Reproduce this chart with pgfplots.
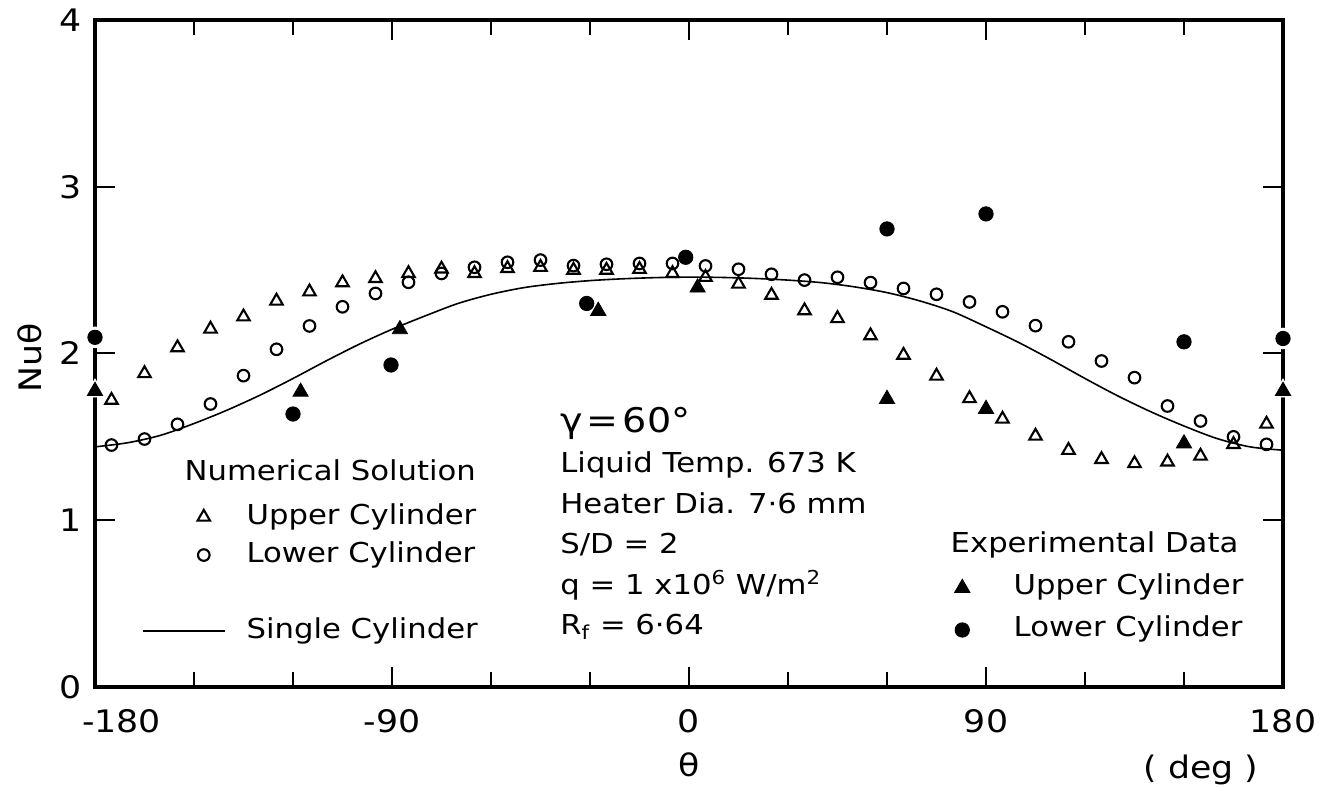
\documentclass[border=0pt]{standalone}
\usepackage{fontspec}
\setmainfont{DejaVu Sans}[FakeStretch=1.12]
\usepackage{pgfplots}
\usepackage{pgfplotstable}
\pgfplotsset{compat=1.18}

\newcommand\lab{\fontsize{13.7pt}{20.25pt}\selectfont}
\newcommand\tickfont{\fontsize{15.5pt}{18pt}\selectfont}

% numerical solution, upper cylinder
\pgfplotstableread{
theta nu
-175 1.72
-165 1.88
-155 2.035
-145 2.147
-135 2.22
-125 2.315
-115 2.37
-105 2.425
-95 2.45
-85 2.48
-75 2.507
-65 2.48
-55 2.51
-45 2.517
-35 2.50
-25 2.50
-15 2.505
-5 2.48
5 2.457
15 2.417
25 2.35
35 2.257
45 2.21
55 2.107
65 1.99
75 1.865
85 1.73
95 1.607
105 1.505
115 1.42
125 1.365
135 1.34
145 1.35
155 1.385
165 1.455
175 1.577
}\numup

% numerical solution, lower cylinder
\pgfplotstableread{
theta nu
-175 1.451
-165 1.487
-155 1.575
-145 1.697
-135 1.867
-125 2.025
-115 2.165
-105 2.28
-95 2.36
-85 2.427
-75 2.48
-65 2.517
-55 2.547
-45 2.56
-35 2.527
-25 2.535
-15 2.54
-5 2.54
5 2.525
15 2.505
25 2.475
35 2.44
45 2.457
55 2.425
65 2.39
75 2.355
85 2.309
95 2.25
105 2.167
115 2.07
125 1.955
135 1.855
145 1.685
155 1.595
165 1.50
175 1.455
}\numlow

% single cylinder
\pgfplotstableread{
theta nu
-180 1.44
-170 1.465
-160 1.51
-150 1.58
-140 1.66
-130 1.75
-120 1.85
-110 1.955
-100 2.055
-90 2.145
-80 2.225
-70 2.30
-60 2.355
-50 2.395
-40 2.42
-30 2.437
-20 2.448
-10 2.455
0 2.458
10 2.456
20 2.45
30 2.44
40 2.425
50 2.40
60 2.365
70 2.315
80 2.25
90 2.16
100 2.065
110 1.96
120 1.85
130 1.745
140 1.65
150 1.565
160 1.49
170 1.44
180 1.42
}\single

% experimental data, upper cylinder
\pgfplotstableread{
theta nu
-180 1.775
-117.7 1.77
-87.6 2.145
-27.5 2.255
2.6 2.395
60 1.727
90 1.667
150 1.46
180 1.775
}\expup

% experimental data, lower cylinder
\pgfplotstableread{
theta nu
-180 2.097
-120 1.637
-90.3 1.931
-31 2.30
-1 2.577
60 2.747
90 2.837
150 2.07
180 2.09
}\explow

\pgfplotsset{
  frame/.style={
    scale only axis, width=594pt, height=333.5pt,
    xmin=-180, xmax=180, ymin=0, ymax=4, clip=false,
  },
  % legend symbols: numerical block (wide cell, mark right of centre)
  markimgA/.style={legend image code/.code={%
    \path (0pt,0pt) (41pt,0pt); \draw[##1] plot coordinates {(30.5pt,0pt)};}},
  lineimgA/.style={legend image code/.code={%
    \draw[##1] (0pt,0pt) -- (41pt,0pt);}},
  % legend symbols: experimental block
  markimgB/.style={legend image code/.code={%
    \path (0pt,0pt) (30pt,0pt); \draw[##1] plot coordinates {(15pt,0pt)};}},
}

\begin{document}
\begin{tikzpicture}
\begin{axis}[frame,
  xtick={-180,-90,0,90,180},
  xticklabels={\hspace*{26.5pt}-180,-90,0,90,180},
  minor xtick={-150,-120,-60,-30,30,60,120,150},
  ytick={0,1,2,3,4}, yticklabels={0,1,2,3,4},
  tick align=inside,
  major tick length=10pt, minor tick length=7.5pt,
  every tick/.style={black, line width=1pt},
  axis line style={line width=2pt},
  ticklabel style={font=\tickfont},
  xticklabel style={anchor=base, yshift=-23pt},
  yticklabel style={anchor=east, xshift=-3pt},
  xlabel={θ}, xlabel style={font=\tickfont, at={(axis description cs:0.5,-0.117)}, anchor=center},
  ylabel={Nuθ}, ylabel style={font=\tickfont, at={(axis description cs:-0.0547,0.493)}, anchor=center, rotate=0},
  legend cell align=left,
  legend style={draw=none, fill=none, inner sep=0pt, outer sep=0pt,
    at={(axis cs:-165.76,1.325)}, anchor=north west, font=\lab,
    row sep=6pt, column sep=10.5pt,
    nodes={inner sep=0pt, text height=10pt, text depth=3pt},
    cells={anchor=west}},
]
\coordinate (BL) at (rel axis cs:0,0);
\coordinate (TR) at (rel axis cs:1,1);

\addlegendimage{empty legend}
\addlegendentry{\hspace*{-31pt}\raisebox{3pt}{Numerical Solution}}

\addplot[only marks, mark=triangle, mark size=3.6pt, mark options={line width=1.05pt, solid}, markimgA]
  table[x=theta, y=nu] {\numup};
\addlegendentry{Upper Cylinder}

\addplot[only marks, mark=o, mark size=2.9pt, mark options={line width=1.05pt, solid}, markimgA]
  table[x=theta, y=nu] {\numlow};
\addlegendentry{Lower Cylinder}

\addlegendimage{empty legend}
\addlegendentry{}

\addplot[no marks, smooth, line width=0.8pt, lineimgA]
  table[x=theta, y=nu] {\single};
\addlegendentry{Single Cylinder}

% parameters of the run
\node[anchor=base west, inner sep=0pt, font=\fontsize{17pt}{20pt}\selectfont]
  at (axis cs:-39.1,1.529) {γ\kern0.12em=\kern0.12em60°};
\node[anchor=base west, inner sep=0pt, align=left, font=\lab]
  at (axis cs:-39.1,0.312)
  {Liquid Temp. 673 K\\
   Heater Dia. 7·6 mm\\
   S/D = 2\\
   q = 1 x10\textsuperscript{6} W/m\textsuperscript{2}\\
   R\textsubscript{f} = 6·64};
\node[font=\tickfont] at (axis description cs:0.931,-0.1245) {( deg )};
\end{axis}

\begin{axis}[frame, hide axis,
  legend cell align=left,
  legend style={draw=none, fill=none, inner sep=0pt, outer sep=0pt,
    at={(axis cs:73.6,0.9235)}, anchor=north west, font=\lab,
    row sep=8pt, column sep=10.5pt,
    nodes={inner sep=0pt, text height=10pt, text depth=3pt},
    cells={anchor=west}},
]
% white halo where the points sit on the frame
\addplot[forget plot, only marks, mark=triangle*, mark size=6pt, white,
  x filter/.expression={abs(x)>179 ? x : nan}] table[x=theta, y=nu] {\expup};
\addplot[forget plot, only marks, mark=*, mark size=5.2pt, white,
  x filter/.expression={abs(x)>179 ? x : nan}] table[x=theta, y=nu] {\explow};

\addlegendimage{empty legend}
\addlegendentry{\hspace*{-31.5pt}Experimental Data}

\addplot[only marks, mark=triangle*, mark size=4.4pt, black, markimgB]
  table[x=theta, y=nu] {\expup};
\addlegendentry{Upper Cylinder}

\addplot[only marks, mark=*, mark size=3.6pt, black, markimgB]
  table[x=theta, y=nu] {\explow};
\addlegendentry{Lower Cylinder}
\end{axis}

\pgfresetboundingbox
\path[use as bounding box] ([shift={(-47.5pt,-50.5pt)}]BL) rectangle ([shift={(18.5pt,10pt)}]TR);
\end{tikzpicture}
\end{document}
